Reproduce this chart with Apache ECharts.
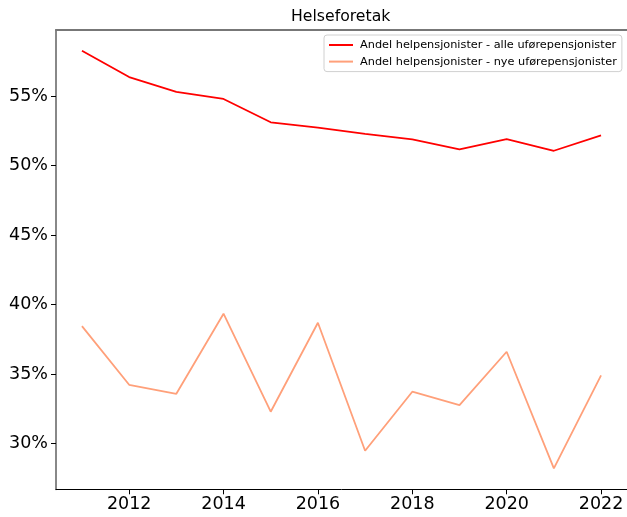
<!DOCTYPE html>
<html>
<head>
<meta charset="utf-8">
<script src="https://cdn.jsdelivr.net/npm/echarts@6/dist/echarts.min.js"></script>
<style>
html,body{margin:0;padding:0;background:#fff;}
#chart{width:627px;height:517px;}
</style>
</head>
<body>
<div id="chart"></div>
<script>
const title = 'Helseforetak';
const years = [2011, 2012, 2013, 2014, 2015, 2016, 2017, 2018, 2019, 2020, 2021, 2022];
const seriesNames = ['Andel helpensjonister - alle uførepensjonister', 'Andel helpensjonister - nye uførepensjonister'];
const alleValues = [58.29, 56.39, 55.33, 54.81, 53.13, 52.75, 52.30, 51.90, 51.18, 51.92, 51.08, 52.19];
const nyeValues = [38.45, 34.22, 33.57, 39.34, 32.28, 38.69, 29.47, 33.72, 32.76, 36.60, 28.20, 34.90];
const xTicks = [2012, 2014, 2016, 2018, 2020, 2022];
const yTicks = [30, 35, 40, 45, 50, 55];

const font = 'DejaVu Sans';
const pair = (vals) => years.map((y, i) => [y, vals[i]]);

const chart = echarts.init(document.getElementById('chart'), null, {renderer: 'canvas'});
chart.setOption({
  animation: false,
  backgroundColor: '#fff',
  title: {
    text: title,
    left: 291,
    top: 9,
    padding: 0,
    textStyle: {fontFamily: font, fontSize: 15.7, fontWeight: 'normal', color: '#000'}
  },
  legend: {
    data: seriesNames,
    orient: 'vertical',
    left: 324,
    top: 35,
    padding: [4, 5, 4, 5],
    itemGap: 4.6,
    itemWidth: 24,
    itemHeight: 2,
    icon: 'rect',
    backgroundColor: '#fff',
    borderColor: '#d0d0d0',
    borderWidth: 1,
    borderRadius: 3,
    textStyle: {fontFamily: font, fontSize: 11.3, color: '#000', lineHeight: 12, padding: [0, 0, 0, 2]}
  },
  grid: {left: 56, top: 30, width: 572, height: 459.3, containLabel: false},
  xAxis: [{
    type: 'value',
    min: 2010.45,
    max: 2022.55,
    position: 'bottom',
    splitLine: {show: false},
    axisLine: {show: true, lineStyle: {color: '#000', width: 1}},
    axisTick: {show: true, customValues: xTicks, length: 5, lineStyle: {color: '#000'}},
    axisLabel: {customValues: xTicks, margin: 6, fontFamily: font, fontSize: 17.5, color: '#000', formatter: (v) => String(v)}
  }, {
    type: 'value',
    min: 2010.45,
    max: 2022.55,
    position: 'top',
    splitLine: {show: false},
    axisLine: {show: true, lineStyle: {color: '#777', width: 2}},
    axisTick: {show: false},
    axisLabel: {show: false}
  }],
  yAxis: {
    type: 'value',
    min: 26.69,
    max: 59.78,
    splitLine: {show: false},
    axisLine: {show: true, lineStyle: {color: '#888', width: 2}},
    axisTick: {show: true, customValues: yTicks, length: 5, lineStyle: {color: '#000'}},
    axisLabel: {customValues: yTicks, margin: 8, fontFamily: font, fontSize: 17.5, color: '#000', formatter: (v) => v + '%'}
  },
  series: [{
    name: seriesNames[0],
    type: 'line',
    data: pair(alleValues),
    showSymbol: false,
    symbol: 'none',
    lineStyle: {color: '#ff0000', width: 1.8},
    itemStyle: {color: '#ff0000'}
  }, {
    name: seriesNames[1],
    type: 'line',
    data: pair(nyeValues),
    showSymbol: false,
    symbol: 'none',
    lineStyle: {color: '#ffa07a', width: 1.8},
    itemStyle: {color: '#ffa07a'}
  }]
});
</script>
</body>
</html>
